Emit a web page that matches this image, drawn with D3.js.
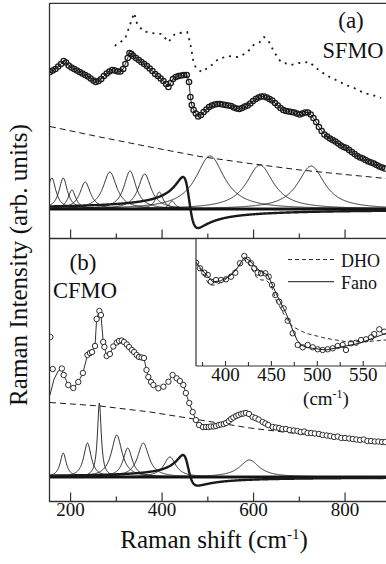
<!DOCTYPE html>
<html><head><meta charset="utf-8">
<script src="https://cdn.jsdelivr.net/npm/d3@7"></script>
<style>
body{margin:0;background:#fff}
svg{display:block}
text{font-family:"Liberation Serif","Times New Roman",serif;fill:#111}
</style>
</head><body>
<svg id="c" width="386" height="564"></svg>
<script>
// ---------- DATA ----------
// Panel (a) SFMO: measured spectrum (open circles) [Raman shift, intensity]
const sfmoData = [[156,137],[162,138.5],[168,140],[174,142.5],[180,145],[186,148],[191,146.5],[197,143.5],[203,141.5],[209,140],[215,138.5],[221,137],[227,135.5],[233,134],[239,132.5],[245,130.5],[251,128.5],[256,127],[262,128],[268,130],[274,133],[280,135.5],[286,137.5],[292,139],[298,138.5],[304,137.5],[310,137.5],[316,140],[321,145],[326,151],[330,156],[334,155],[338,153],[344,151],[350,149],[356,147],[362,145],[368,143],[374,140.5],[380,138],[386,135],[392,133],[398,130.5],[404,128],[410,125],[415,122],[420,126],[425,130],[431,132],[437,133],[443,133.5],[449,134],[455,134],[460,127],[463,112],[466,104],[470,99],[475,95.5],[480,92.5],[486,94],[492,97],[498,99.5],[504,102],[510,103.5],[516,104.5],[522,105],[528,105],[534,104.5],[540,104],[546,103.5],[552,103],[558,101.5],[564,100.5],[570,100],[576,101],[582,102.5],[588,103.5],[594,105.5],[600,108],[606,110],[612,111.5],[618,112.5],[624,112.5],[630,111.5],[636,110],[642,108.5],[648,106],[654,103.5],[660,101],[666,99],[672,98],[678,97.5],[684,97],[690,96.5],[696,95.5],[702,94.5],[708,95.5],[714,96.5],[720,96.5],[726,94.5],[732,91],[738,87],[744,82],[750,78],[756,74.5],[762,72.5],[768,70.5],[774,69],[780,67.5],[786,65.5],[792,63.5],[798,62],[804,61],[810,59],[816,57],[822,55],[828,53],[834,51.5],[840,50.5],[846,49],[852,47.5],[858,46.5],[864,45.5],[870,44],[876,42.5],[882,41.5],[888,40.5]];
// Panel (a): second spectrum (dotted)
const sfmoDotted = [[298,163],[300,164],[320,170],[327,179],[333,187],[340,196],[346,186],[359,178],[378,176],[400,175],[415,167],[429,175],[440,176],[456,177],[462,167],[466,157],[469,149],[475,141],[488,137],[510,144],[524,150],[546,153],[566,152],[586,156],[601,164],[615,167],[624,172],[635,167],[646,157],[661,147],[683,144],[701,146],[723,147],[738,141],[759,134],[781,129],[803,124],[821,121],[843,116],[861,114],[880,111]];
// Panel (a): background (dashed)
const sfmoBackground = [[156,82.5],[265,72],[375,62],[484,52.5],[593,45.5],[703,39],[812,34],[891,30.5]];
// Panel (a): Lorentzian components (centre, height, half width)
const sfmoPeakCentres = [160,185,204,233,287,331,363,395,423,506,615,727];
const sfmoPeakHeights = [31,31,19,27,37,38,35,17,8,53,44,43];
const sfmoPeakWidths  = [11,11,10,14,18,16,17,10,8,38,36,36];
// Panel (a): Fano component [centre, width, q, amplitude]
const sfmoFano = [459,15.8,-1.3,19];

// Panel (b) CFMO: measured spectrum
const cfmoData = [[157,140],[162,108],[182,108.5],[186,102],[196,92],[207,89],[218,95],[228,104],[238,122],[243.5,124],[248,125],[254.5,131],[258,158],[264,166],[267.5,162],[272.5,135],[275,130],[280,121],[287,123],[294.5,130.5],[302,134.5],[307,136],[313,136.5],[318,135],[324,132.5],[329,130],[335,127],[340,125],[345.5,122],[350.5,120],[356.5,119.5],[361.5,119],[367,107],[371,100],[377,95],[382,92],[393,88.7],[404,90.3],[415,95.3],[424,102],[433,98.7],[440,96],[447.5,92],[453,84],[460.5,74],[468,65],[475,57],[482,52],[490.5,50],[497,50],[503,50],[508,50.5],[514,50.5],[519,51],[525,52],[530,52.5],[536,53],[541,54],[547,56],[552,58],[557,59.5],[563,61],[568,62],[574,63],[579,63.5],[584.5,64],[591,63],[599,60],[605,59],[612,57.5],[621,55],[627,53.5],[633,52],[643,50],[650,49.5],[657,49],[664,48],[672,48],[680,47],[689,46.5],[697,46],[704,45],[712,45.5],[719,44],[727,44],[735,43.5],[744,43],[752,42],[761,41.5],[769,41],[777,40],[785,40.5],[793,39],[801,39],[810,38.5],[818,38],[826,37.5],[834,37],[842,37.5],[850,36],[858,36],[866,35.5],[874,35.5],[882,35],[889,35]];
const cfmoFitStart = [[156,82],[165,98],[174,106]];
const cfmoBackground = [[156,74.5],[265,71],[375,65],[484,57],[593,49],[703,43],[812,37],[891,33]];
const cfmoPeakCentres = [185,238,264,302,326,360,418,592];
const cfmoPeakHeights = [24,34,74,42,29,34,20,17];
const cfmoPeakWidths  = [8,10,5,14,12,15,16,26];
const cfmoFano = [456,14.7,-1.6,8.6];

// Inset: CFMO zoom with DHO and Fano fits
const insetData = [[368.4,103.3],[372.8,97.7],[377.5,93.3],[381.2,91],[384.7,84.3],[390.2,86],[395.6,86],[401.1,86.7],[406.5,89.3],[411.2,93.3],[416.3,102.7],[421,110],[424.7,106],[428.3,102.7],[431.9,97.7],[435.6,93.3],[439.2,92.7],[443.9,92.7],[447.6,89.3],[451.2,81],[454.8,71],[459.1,64.3],[463.9,57.7],[468.3,45.3],[473.7,32.7],[479.2,21],[484.6,18.7],[490.1,21],[495.5,18.7],[501,16.7],[506.4,16],[511.9,16.7],[517.3,17.7],[522.8,20],[528.2,21],[531.8,16],[537.3,22.7],[542.7,23.3],[548.2,26],[553.6,26.7],[559.1,28.7],[562.6,32],[568.1,36.7],[573.5,34.3]];
const insetFano = [[368.4,103.3],[376,95],[386.6,84.3],[394.6,85],[403.3,89],[412,96],[421,108.7],[427.2,105],[435.6,96.7],[440.3,94],[446.5,91],[451.2,82],[455.6,72.7],[466.5,52.7],[473.7,36],[478.4,26],[482.8,21],[489.3,18.5],[495.5,17.7],[510,16],[524.5,18.7],[546.3,22.7],[560.9,27.7],[575.4,32.7]];
const insetDHO = [[368.4,104],[375,94],[382.9,81],[389.1,81],[396.7,84],[405.4,90],[414.2,99],[421,106.7],[427.2,101],[433.8,89.3],[439.2,86],[444.7,86],[450.1,81],[455.6,66],[466.5,48],[473.7,39.3],[488.2,32.7],[510,27.7],[531.8,24.3],[553.6,24.3],[575.4,26]];

const majorTicks = [200,400,600,800];
const minorTicks = [300,500,700];
const insetMajor = [400,450,500,550];
const insetMinor = [375,425,475,525,575];

// ---------- DRAWING ----------
const svg = d3.select("#c");
const ink = "#1a1a1a";
const x = d3.scaleLinear().domain([155,893]).range([49.5,387.1]);
const yA = d3.scaleLinear().domain([-29.5,206]).range([238.5,3]);
const yB = d3.scaleLinear().domain([-24.5,238.5]).range([501.5,238.5]);
const grid = d3.range(155,893.5,1);

const defs = svg.append("defs");
defs.append("clipPath").attr("id","clipA").append("rect").attr("x",49.5).attr("y",3).attr("width",340).attr("height",235.5);
defs.append("clipPath").attr("id","clipB").append("rect").attr("x",49.5).attr("y",238.5).attr("width",340).attr("height",263);

function panel(clip, y, d) {
  const g = svg.append("g").attr("clip-path",`url(#${clip})`);
  const line = d3.line().x(p=>x(p[0])).y(p=>y(p[1]));
  g.append("path").attr("d",line(d.bg)).attr("fill","none").attr("stroke",ink).attr("stroke-width",1).attr("stroke-dasharray","6,4");
  g.append("path").attr("d",line([[155,0],[893,0]])).attr("fill","none").attr("stroke",ink).attr("stroke-width",3);
  d.centres.forEach((c,i)=>{
    const h=d.heights[i], w=d.widths[i];
    const pts = grid.map(v=>[v, h/(1+((v-c)/w)**2)]);
    g.append("path").attr("d",line(pts)).attr("fill","none").attr("stroke",ink).attr("stroke-width",0.9);
  });
  const [fc,fg,fq,fa] = d.fano;
  const fpts = grid.map(v=>{const e=(v-fc)/fg; return [v, fa*((fq+e)**2/(1+e*e)-1)];});
  g.append("path").attr("d",line(fpts)).attr("fill","none").attr("stroke",ink).attr("stroke-width",2.4);
  if (d.dotted) g.append("path").attr("d",line(d.dotted)).attr("fill","none").attr("stroke",ink).attr("stroke-width",1.8).attr("stroke-dasharray","2,5");
  g.append("path").attr("d",line(d.fitLine)).attr("fill","none").attr("stroke",ink).attr("stroke-width",0.9);
  g.selectAll("circle.d").data(d.data).enter().append("circle")
    .attr("cx",p=>x(p[0])).attr("cy",p=>y(p[1])).attr("r",d.r)
    .attr("fill",d.fill).attr("stroke",ink).attr("stroke-width",d.sw);
}

panel("clipA", yA, {bg:sfmoBackground, centres:sfmoPeakCentres, heights:sfmoPeakHeights, widths:sfmoPeakWidths, fano:sfmoFano, dotted:sfmoDotted, data:sfmoData, fitLine:sfmoData, r:2.7, fill:"none", sw:1.25});
panel("clipB", yB, {bg:cfmoBackground, centres:cfmoPeakCentres, heights:cfmoPeakHeights, widths:cfmoPeakWidths, fano:cfmoFano, dotted:null, data:cfmoData, fitLine:cfmoFitStart.concat(cfmoData.slice(2)), r:2.7, fill:"#fff", sw:0.9});

// frames
const fr = svg.append("g").attr("stroke","#333").attr("stroke-width",1.3).attr("fill","none");
fr.append("line").attr("x1",49.5).attr("x2",386).attr("y1",3.3).attr("y2",3.3);
fr.append("line").attr("x1",49.5).attr("x2",386).attr("y1",238.5).attr("y2",238.5);
fr.append("line").attr("x1",49.5).attr("x2",386).attr("y1",501.5).attr("y2",501.5);
fr.append("line").attr("x1",49.5).attr("x2",49.5).attr("y1",3).attr("y2",502);

function ticks(yPos, labels) {
  const gM = svg.append("g").attr("transform",`translate(0,${yPos})`)
    .call(d3.axisBottom(x).tickValues(majorTicks).tickSize(-9).tickSizeOuter(0).tickPadding(1)
      .tickFormat(labels ? d3.format("d") : ""));
  gM.select(".domain").remove();
  gM.selectAll("line").attr("stroke","#333").attr("stroke-width",1.2);
  gM.selectAll("text").attr("font-size",19).attr("font-family","Liberation Serif").attr("fill","#111");
  const gm = svg.append("g").attr("transform",`translate(0,${yPos})`)
    .call(d3.axisBottom(x).tickValues(minorTicks).tickSize(-5).tickSizeOuter(0).tickFormat(""));
  gm.select(".domain").remove();
  gm.selectAll("line").attr("stroke","#333").attr("stroke-width",1.2);
}
ticks(238.5,false);
ticks(501.5,true);

// ---------- INSET ----------
const xi = d3.scaleLinear().domain([368.4,578]).range([196,388.4]);
const yi = d3.scaleLinear().domain([0,126]).range([366,240]);
defs.append("clipPath").attr("id","clipI").append("rect").attr("x",196).attr("y",239.5).attr("width",192).attr("height",126.5);
svg.append("rect").attr("x",196).attr("y",239.5).attr("width",192).attr("height",126.5).attr("fill","#fff");
const gi = svg.append("g").attr("clip-path","url(#clipI)");
const li = d3.line().x(p=>xi(p[0])).y(p=>yi(p[1]));
gi.append("path").attr("d",li(insetDHO)).attr("fill","none").attr("stroke",ink).attr("stroke-width",0.9).attr("stroke-dasharray","4,3");
gi.append("path").attr("d",li(insetFano)).attr("fill","none").attr("stroke",ink).attr("stroke-width",1);
gi.selectAll("circle").data(insetData).enter().append("circle")
  .attr("cx",p=>xi(p[0])).attr("cy",p=>yi(p[1])).attr("r",2.7)
  .attr("fill","none").attr("stroke",ink).attr("stroke-width",0.9);
const fi = svg.append("g").attr("stroke","#333").attr("stroke-width",1.2).attr("fill","none");
fi.append("line").attr("x1",196).attr("x2",196).attr("y1",239).attr("y2",366);
fi.append("line").attr("x1",196).attr("x2",386).attr("y1",366).attr("y2",366);
const giM = svg.append("g").attr("transform","translate(0,366)")
  .call(d3.axisBottom(xi).tickValues(insetMajor).tickSize(-5).tickSizeOuter(0).tickPadding(1).tickFormat(d3.format("d")));
giM.select(".domain").remove();
giM.selectAll("line").attr("stroke","#333").attr("stroke-width",1.1);
giM.selectAll("text").attr("font-size",19).attr("font-family","Liberation Serif").attr("fill","#111");
const gim = svg.append("g").attr("transform","translate(0,366)")
  .call(d3.axisBottom(xi).tickValues(insetMinor).tickSize(-4).tickSizeOuter(0).tickFormat(""));
gim.select(".domain").remove();
gim.selectAll("line").attr("stroke","#333").attr("stroke-width",1.1);

const iu = svg.append("text").attr("x",326).attr("y",405).attr("text-anchor","middle").attr("font-size",19);
iu.append("tspan").text("(cm");
iu.append("tspan").attr("dy",-7).attr("font-size",12).text("-1");
iu.append("tspan").attr("dy",7).text(")");

// legend
svg.append("line").attr("x1",288).attr("x2",334).attr("y1",259.5).attr("y2",259.5).attr("stroke",ink).attr("stroke-width",0.9).attr("stroke-dasharray","4,3");
svg.append("line").attr("x1",288).attr("x2",334).attr("y1",281.7).attr("y2",281.7).attr("stroke",ink).attr("stroke-width",1);
svg.append("text").attr("x",341).attr("y",267).attr("font-size",18).text("DHO");
svg.append("text").attr("x",341).attr("y",289).attr("font-size",18).text("Fano");

// panel labels
svg.append("text").attr("x",351).attr("y",28).attr("text-anchor","middle").attr("font-size",23).text("(a)");
svg.append("text").attr("x",353).attr("y",58).attr("text-anchor","middle").attr("font-size",23).attr("textLength",61).attr("lengthAdjust","spacingAndGlyphs").text("SFMO");
svg.append("text").attr("x",83).attr("y",270).attr("text-anchor","middle").attr("font-size",23).text("(b)");
svg.append("text").attr("x",85).attr("y",298).attr("text-anchor","middle").attr("font-size",23).attr("textLength",64).attr("lengthAdjust","spacingAndGlyphs").text("CFMO");

// axis titles
const xt = svg.append("text").attr("x",214).attr("y",548).attr("text-anchor","middle").attr("font-size",25);
xt.append("tspan").text("Raman shift (cm");
xt.append("tspan").attr("dy",-9).attr("font-size",15).text("-1");
xt.append("tspan").attr("dy",9).text(")");
svg.append("text").attr("transform","translate(27,265) rotate(-90)").attr("text-anchor","middle").attr("font-size",25)
  .attr("textLength",282).attr("lengthAdjust","spacingAndGlyphs").text("Raman Intensity (arb. units)");
</script>
</body></html>
